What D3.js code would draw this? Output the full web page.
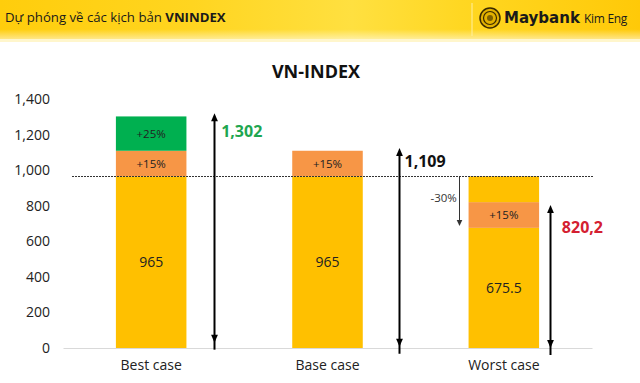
<!DOCTYPE html>
<html><head><meta charset="utf-8">
<script src="https://cdn.jsdelivr.net/npm/d3@7"></script>
<style>html,body{margin:0;padding:0;background:#fff;}svg{display:block;}</style>
</head><body>
<svg id="c" width="640" height="383"></svg>
<script>
// ---- data ----
const categories = ["Best case", "Base case", "Worst case"];
const yTicks = [0, 200, 400, 600, 800, 1000, 1200, 1400];
const segCategory = ["Best case","Best case","Best case","Base case","Base case","Worst case","Worst case","Worst case"];
const segFrom  = [0, 965, 1109, 0, 965, 0, 675.5, 820.2];
const segTo    = [965, 1109, 1302, 965, 1109, 675.5, 820.2, 965];
const segKind  = ["base","up15","up25","base","up15","base","up15","base"];
const segLabel = ["965","+15%","+25%","965","+15%","675.5","+15%",""];
const refLevel = 965;
const arrowCategory = ["Best case","Base case","Worst case","Worst case"];
const arrowFrom = [30, 7, 0, 965];
const arrowTo   = [1320, 1124, 804, 686];
const arrowBothEnds = [true, true, true, false];
const calloutText  = ["1,302", "1,109", "820,2", "-30%"];
const calloutValue = [1220, 1050, 680, 843];

// ---- styles / layout ----
const colors = {base:"#FFC000", up15:"#F79646", up25:"#00B050"};
const arrowDx = [63, 71, 46, -45];
const arrowWidth = [2, 2, 2, 1];
const arrowColor = ["#000","#000","#000","#333"];
const calloutDx = [70, 77, 58, -47];
const calloutColor = ["#1FA650","#111","#D42031","#333"];
const calloutAnchor = ["start","start","start","end"];
const calloutSize = [16,16,16,11.5];
const calloutWeight = ["bold","bold","bold","normal"];
const FONT = "'Open Sans', 'DejaVu Sans', sans-serif";

const svg = d3.select("#c");

// header
const defs = svg.append("defs");
const hg = defs.append("linearGradient").attr("id","hg").attr("x1","0").attr("x2","1").attr("y1","0").attr("y2","0");
[["0","#FFCD0C"],["0.3","#FFD520"],["0.55","#FFE040"],["0.72","#FFD722"],["1","#FFC908"]].forEach(s=>hg.append("stop").attr("offset",s[0]).attr("stop-color",s[1]));
const vg = defs.append("linearGradient").attr("id","vg").attr("x1","0").attr("x2","0").attr("y1","0").attr("y2","1");
[["0","#fff",0],["0.75","#fff",0],["1","#fff",0.5]].forEach(s=>vg.append("stop").attr("offset",s[0]).attr("stop-color",s[1]).attr("stop-opacity",s[2]));
svg.append("rect").attr("x",0).attr("y",0).attr("width",640).attr("height",39).attr("fill","url(#hg)");
svg.append("rect").attr("x",0).attr("y",0).attr("width",640).attr("height",39).attr("fill","url(#vg)");
svg.append("rect").attr("x",0).attr("y",39).attr("width",640).attr("height",3).attr("fill","#FFF6CC");
svg.append("line").attr("x1",472).attr("x2",472).attr("y1",3).attr("y2",36).attr("stroke","#FFEFA0").attr("stroke-width",1);

const ht = svg.append("text").attr("x",5).attr("y",22).attr("font-family",FONT).attr("font-size",13.2).attr("fill","#1a1a1a");
ht.append("tspan").text("Dự phóng về các kịch bản ");
ht.append("tspan").attr("font-weight","bold").text("VNINDEX");

// logo
const lg = svg.append("g").attr("transform","translate(490,18)");
lg.append("circle").attr("r",10).attr("fill","#E2B100").attr("stroke","#3a2a00").attr("stroke-width",1.5);
lg.append("circle").attr("r",6.5).attr("fill","none").attr("stroke","#3a2a00").attr("stroke-width",1.2);
lg.append("circle").attr("r",3).attr("fill","#3a2a00").attr("opacity",0.6);
svg.append("text").attr("x",504).attr("y",23).attr("font-family","'DejaVu Sans', sans-serif").attr("font-weight","bold").attr("font-size",15).attr("fill","#1a1a1a").text("Maybank");
svg.append("text").attr("x",584).attr("y",23).attr("font-family",FONT).attr("font-size",12).attr("fill","#1a1a1a").attr("letter-spacing","-0.3").text("Kim Eng");

// chart title
svg.append("text").attr("x",316).attr("y",78).attr("text-anchor","middle").attr("font-family",FONT).attr("font-weight","bold").attr("font-size",18).attr("fill","#111").text("VN-INDEX");

// scales
const x = d3.scaleBand().domain(categories).range([63, 592]).paddingInner(0.6).paddingOuter(0.3);
const y = d3.scaleLinear().domain([0, 1400]).range([348, 99]);

// y axis labels
const yAxis = d3.axisLeft(y).tickValues(yTicks).tickFormat(d3.format(",")).tickSize(0).tickPadding(0);
const ya = svg.append("g").attr("transform","translate(50,0)").call(yAxis);
ya.select(".domain").remove();
ya.selectAll("text").attr("font-family",FONT).attr("font-size",14).attr("fill","#222");

// baseline axis
const xAxis = d3.axisBottom(x).tickSize(0).tickPadding(12);
const xa = svg.append("g").attr("transform",`translate(0,${y(0)})`).call(xAxis);
xa.select(".domain").attr("stroke","#D9D9D9").attr("stroke-width",1);
xa.selectAll("text").attr("font-family",FONT).attr("font-size",14).attr("fill","#222");

// bars
const segs = segCategory.map((c,i)=>({c, from:segFrom[i], to:segTo[i], kind:segKind[i], label:segLabel[i]}));
svg.append("g").selectAll("rect").data(segs).join("rect")
  .attr("x",d=>x(d.c)).attr("width",x.bandwidth())
  .attr("y",d=>y(d.to)).attr("height",d=>y(d.from)-y(d.to))
  .attr("fill",d=>colors[d.kind]);
svg.append("g").selectAll("text").data(segs.filter(d=>d.label)).join("text")
  .attr("x",d=>x(d.c)+x.bandwidth()/2).attr("y",d=>(y(d.from)+y(d.to))/2)
  .attr("dy","0.35em").attr("text-anchor","middle").attr("font-family",FONT)
  .attr("font-size",d=>d.kind==="base"?14:11.5).attr("fill","#222").text(d=>d.label);

// reference dotted line
svg.append("line").attr("x1",72).attr("x2",593).attr("y1",Math.round(y(refLevel))+0.5).attr("y2",Math.round(y(refLevel))+0.5)
  .attr("stroke","#333").attr("stroke-width",1).attr("stroke-dasharray","2,1");

// arrows
function head(px, py, dir, w){ // dir: -1 up, 1 down
  const hw = w>1?3.4:2.8, hl = w>1?8:6;
  return `M${px},${py} L${px-hw},${py-dir*hl} L${px+hw},${py-dir*hl} Z`;
}
arrowCategory.forEach((c,i)=>{
  const ax = Math.round(x(c)+x.bandwidth()/2+arrowDx[i]) + 0.5;
  const y1 = y(arrowFrom[i]), y2 = y(arrowTo[i]);
  const g = svg.append("g");
  const up = y2 < y1 ? -1 : 1;
  const hl = arrowWidth[i]>1?7:5;
  g.append("line").attr("x1",ax).attr("x2",ax)
    .attr("y1", arrowBothEnds[i] ? y1 - up*hl : y1).attr("y2", y2 - up*hl)
    .attr("stroke",arrowColor[i]).attr("stroke-width",arrowWidth[i]);
  g.append("path").attr("d",head(ax,y2,up,arrowWidth[i])).attr("fill",arrowColor[i]);
  if (arrowBothEnds[i]) g.append("path").attr("d",head(ax,y1,-up,arrowWidth[i])).attr("fill",arrowColor[i]);
  svg.append("text").attr("x",x(c)+x.bandwidth()/2+calloutDx[i]).attr("y",y(calloutValue[i])).attr("dy","0.35em")
    .attr("text-anchor",calloutAnchor[i]).attr("font-family",FONT).attr("font-weight",calloutWeight[i])
    .attr("font-size",calloutSize[i]).attr("fill",calloutColor[i]).text(calloutText[i]);
});
</script>
</body></html>
